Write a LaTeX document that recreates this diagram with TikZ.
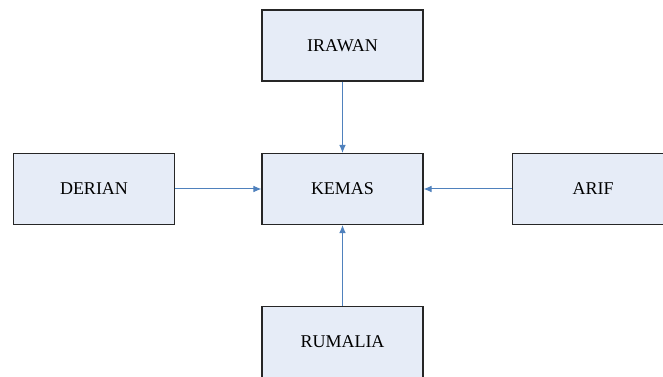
\documentclass[tikz,border=0pt]{standalone}
\usepackage{fontspec}
\setmainfont{Liberation Serif}
\usetikzlibrary{arrows.meta}
\definecolor{boxfill}{RGB}{230,236,247}
\definecolor{linkblue}{RGB}{79,129,189}
\begin{document}
\begin{tikzpicture}[x=0.75pt, y=-0.75pt,
  person/.style={draw=black!85, fill=boxfill, line width=0.8pt, minimum width=120.75pt, minimum height=53.25pt, inner sep=0pt, font=\fontsize{13.5}{16}\selectfont},
  link/.style={draw=linkblue, line width=0.75pt, -{Latex[length=6pt,width=5pt]}}]
\clip (0,0) rectangle (663,377);
\useasboundingbox (0,0) rectangle (663,377);
\node[person] (irawan) at (342.5,45.5) {IRAWAN};
\node[person] (derian) at (94,189) {DERIAN};
\node[person] (kemas) at (342.5,189) {KEMAS};
\node[person] (arif) at (593,189) {ARIF};
\node[person] (rumalia) at (342.5,342) {RUMALIA};
\draw[link] (irawan) -- (kemas);
\draw[link] (derian) -- (kemas);
\draw[link] (arif) -- (kemas);
\draw[link] (rumalia) -- (kemas);
\end{tikzpicture}
\end{document}
